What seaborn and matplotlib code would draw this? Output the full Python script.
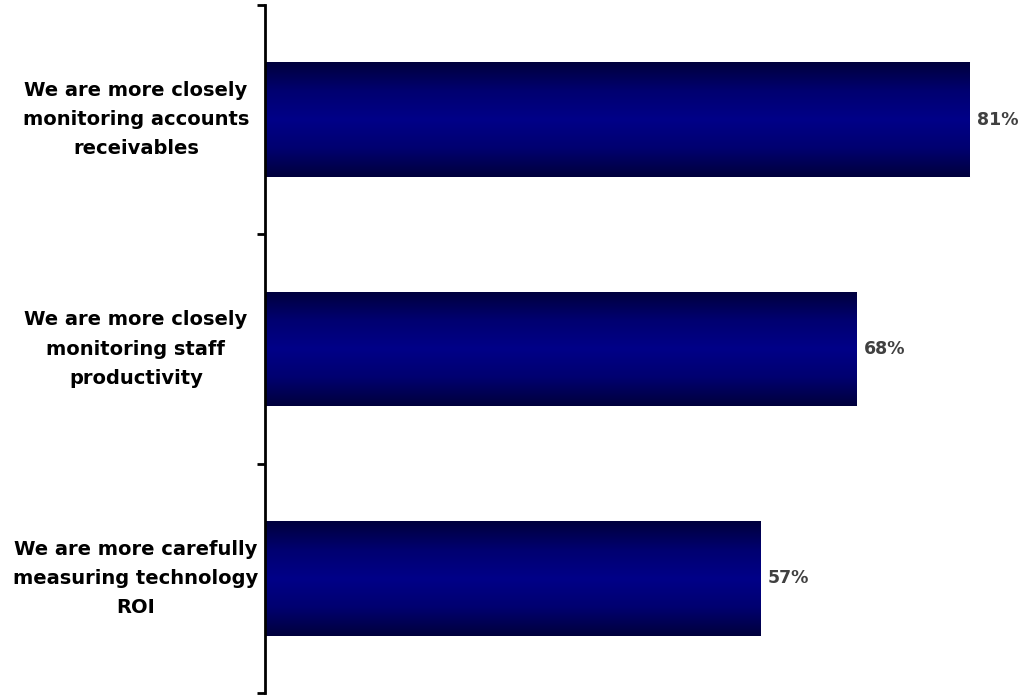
import numpy as np
import pandas as pd
import matplotlib
matplotlib.use("Agg")
import matplotlib.pyplot as plt
import seaborn as sns
from matplotlib.colors import LinearSegmentedColormap

categories = [
    "We are more closely\nmonitoring accounts\nreceivables",
    "We are more closely\nmonitoring staff\nproductivity",
    "We are more carefully\nmeasuring technology\nROI",
]
values = [81, 68, 57]
value_labels = ["81%", "68%", "57%"]

sns.set_style("white")
plt.rcParams['font.family'] = ['DejaVu Sans']

df = pd.DataFrame({"cat": categories, "val": values})

fig = plt.figure(figsize=(10.24, 6.98), dpi=100)
ax = fig.add_axes([265/1024, 5/698, (1024-265)/1024, (693-5)/698])

sns.barplot(data=df, x="val", y="cat", orient="h", color="#000080",
            width=0.5, ax=ax, saturation=1)

# gradient fill for bars
cmap = LinearSegmentedColormap.from_list(
    "g", ["#00003c", "#000070", "#000088", "#000070", "#00003c"])
grad = np.linspace(0, 1, 256).reshape(-1, 1)
for p in ax.patches:
    x0, y0 = p.get_x(), p.get_y()
    w, h = p.get_width(), p.get_height()
    im = ax.imshow(grad, cmap=cmap, aspect="auto",
                   extent=[x0, x0 + w, y0 + h, y0], zorder=p.get_zorder() + 0.1,
                   interpolation="bicubic")
    im.set_clip_path(p)
ax.set_xlim(0, (1024-265)/8.7)
ax.set_ylim(2.5, -0.5)

for i, (v, lab) in enumerate(zip(values, value_labels)):
    ax.text(v + 0.8, i, lab, va="center", ha="left", fontsize=12.5,
            fontweight="bold", color="#404040")

for s in ["top", "right", "bottom"]:
    ax.spines[s].set_visible(False)
ax.spines["left"].set_linewidth(2)
ax.spines["left"].set_color("black")
ax.set_xticks([])
ax.set_xlabel("")
ax.set_ylabel("")

ax.set_yticks(range(len(categories)))
ax.set_yticklabels(categories, fontsize=14, fontweight="bold",
                   ha="center", va="center", multialignment="center",
                   color="black", linespacing=1.68)
ax.tick_params(axis="y", which="major", length=0, pad=93)
ax.set_yticks([-0.5, 0.5, 1.5, 2.5], minor=True)
ax.tick_params(axis="y", which="minor", length=6, width=2, color="black",
               left=True)

fig.savefig("out.png", dpi=100)
